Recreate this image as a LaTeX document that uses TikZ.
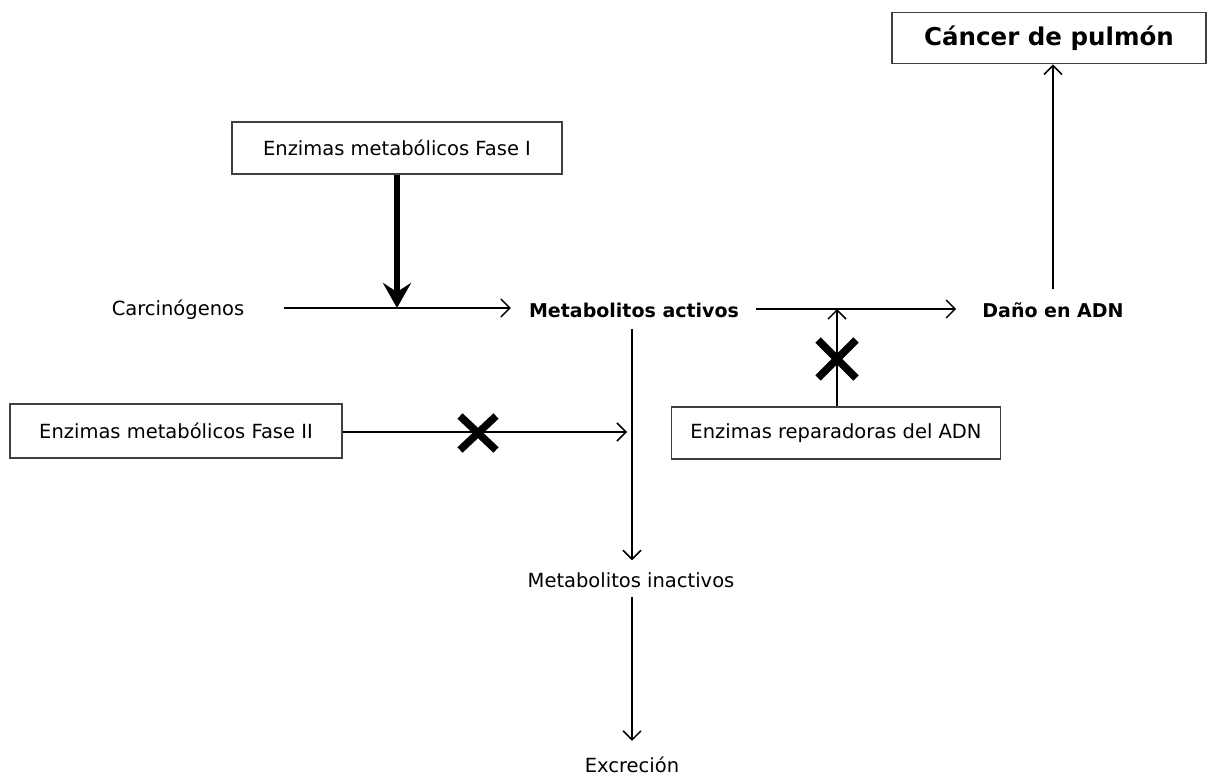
\documentclass[tikz,border=0pt]{standalone}
\usepackage{fontspec}
\setmainfont{DejaVu Sans}
\usetikzlibrary{arrows.meta}
\begin{document}
\begin{tikzpicture}[x=1pt,y=-1pt,
  lbl/.style={inner sep=2pt, font=\fontsize{19.5}{22}\selectfont},
  blbl/.style={inner sep=2pt, font=\fontsize{19}{22}\selectfont\bfseries},
  box/.style={draw=black!75, line width=1.8pt, inner sep=0pt, font=\fontsize{19.5}{22}\selectfont},
  conn/.style={line width=1.5pt, -{Straight Barb[length=9pt,width=18pt,line width=1.5pt]}},
  thick arr/.style={line width=6pt, -{Stealth[length=25pt,width=28pt,inset=9pt]}},
  cross/.style={line width=7.5pt}
]
\useasboundingbox (0,0) rectangle (1208,778);
% nodes
\node[box, minimum width=314pt, minimum height=51pt, font=\fontsize{24.5}{28}\selectfont\bfseries] (cancer) at (1049,38) {Cáncer de pulmón};
\node[box, minimum width=330pt, minimum height=52pt] (fase1) at (397,148) {Enzimas metabólicos Fase I};
\node[lbl] (carc) at (178,310) {Carcinógenos};
\node[blbl] (met) at (634,310) {Metabolitos activos};
\node[blbl] (dano) at (1053,310) {Daño en ADN};
\node[box, minimum width=332pt, minimum height=54pt] (fase2) at (176,431) {Enzimas metabólicos Fase II};
\node[box, minimum width=329pt, minimum height=52pt] (rep) at (836,433) {Enzimas reparadoras del ADN};
\node[lbl] (inact) at (631,580) {Metabolitos inactivos};
\node[lbl] (excr) at (632,765) {Excreción};
% junction coordinates
\coordinate (j1) at (397,308);
\coordinate (j2) at (837,309);
\coordinate (j3) at (627,432);
% connectors
\draw[conn, shorten <=38pt, shorten >=16pt] (carc.east |- 0,308) -- (met.west |- 0,308);
\draw[conn, shorten <=15pt, shorten >=24pt] (met.east |- 0,309) -- (dano.west |- 0,309);
\draw[thick arr] (fase1.south) -- (j1);
\draw[conn] (rep.north -| j2) -- (j2);
\draw[conn] (fase2.east |- j3) -- (j3);
\draw[conn, shorten <=9pt, shorten >=10pt] (met.south -| 632,0) -- (inact.north -| 632,0);
\draw[conn, shorten <=7pt, shorten >=14pt] (inact.south -| 632,0) -- (excr.north -| 632,0);
\draw[conn, shorten <=11pt] (dano.north) -- (cancer.south -| dano.north);
% crosses
\draw[cross] (460,416) -- (496,450) (460,450) -- (496,416);
\draw[cross] (818,340) -- (856,378) (818,378) -- (856,340);
\end{tikzpicture}
\end{document}
